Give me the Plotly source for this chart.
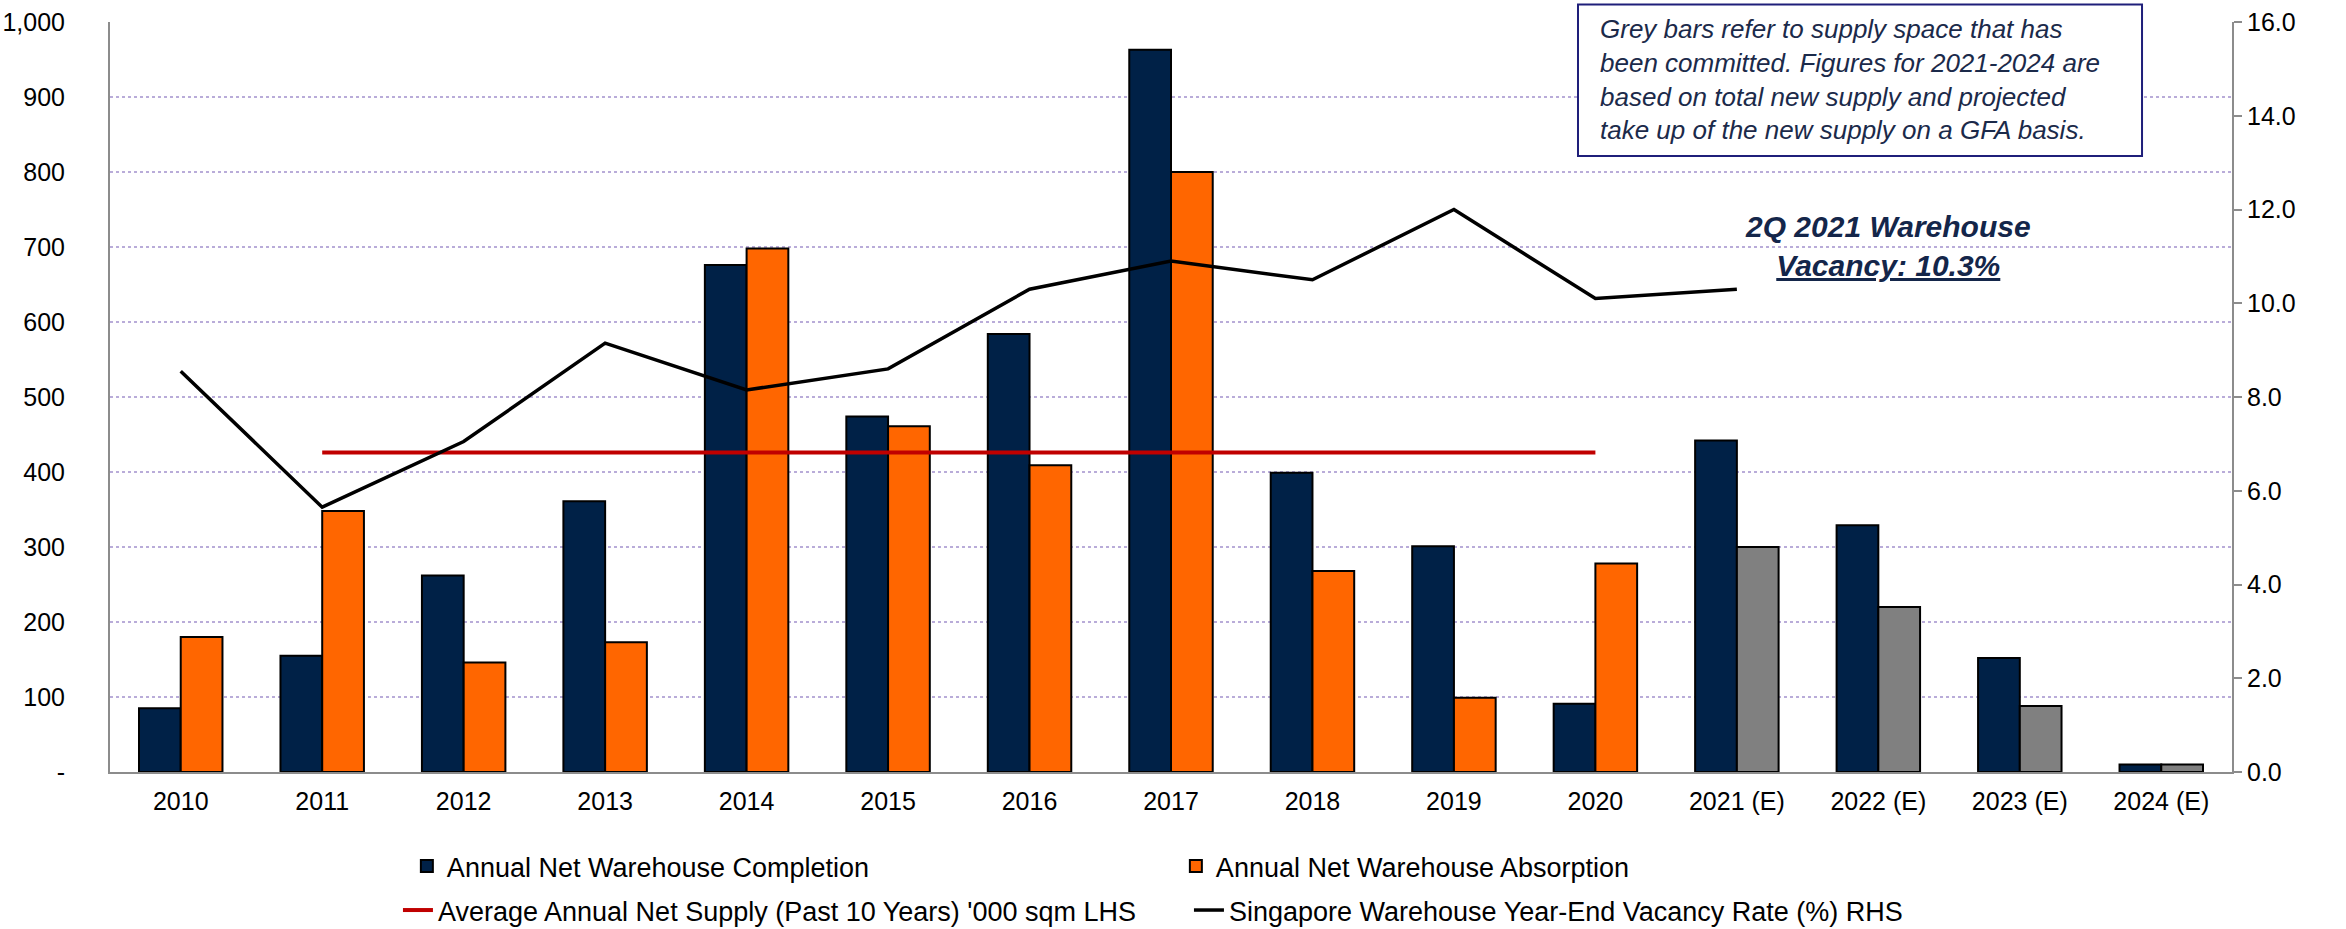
import plotly.graph_objects as go

years = ["2010", "2011", "2012", "2013", "2014", "2015", "2016", "2017", "2018", "2019",
         "2020", "2021 (E)", "2022 (E)", "2023 (E)", "2024 (E)"]
completion = [85, 155, 262, 361, 676, 474, 584, 963, 399, 301, 91, 442, 329, 152, 10]
absorption = [180, 348, 146, 173, 698, 461, 409, 800, 268, 99, 278, 300, 220, 88, 10]
absorption_committed = [False] * 11 + [True] * 4
avg_years = ["2011", "2012", "2013", "2014", "2015", "2016", "2017", "2018", "2019", "2020"]
avg_supply = [426] * 10
vac_years = ["2010", "2011", "2012", "2013", "2014", "2015", "2016", "2017", "2018", "2019",
             "2020", "2021 (E)"]
vacancy = [8.55, 5.65, 7.05, 9.15, 8.15, 8.6, 10.3, 10.9, 10.5, 12.0, 10.1, 10.3]
left_ticks = [0, 100, 200, 300, 400, 500, 600, 700, 800, 900, 1000]
left_ticktext = ["-", "100", "200", "300", "400", "500", "600", "700", "800", "900", "1,000"]

NAVY = "#002147"
ORANGE = "#ff6600"
GREY = "#808080"
FONT = "Liberation Sans, Arial, sans-serif"

abs_colors = [GREY if c else ORANGE for c in absorption_committed]

fig = go.Figure()
fig.add_trace(go.Bar(x=years, y=completion, name="Annual Net Warehouse Completion",
                     legend="legend",
                     marker=dict(color=NAVY, line=dict(color="black", width=2))))
fig.add_trace(go.Bar(x=years, y=absorption, name="Annual Net Warehouse Absorption",
                     legend="legend",
                     marker=dict(color=abs_colors, line=dict(color="black", width=2))))
fig.add_trace(go.Scatter(x=avg_years, y=avg_supply, mode="lines", legend="legend2",
                         name="Average Annual Net Supply (Past 10 Years) '000 sqm LHS",
                         line=dict(color="#c00000", width=4)))
fig.add_trace(go.Scatter(x=vac_years, y=vacancy, mode="lines", yaxis="y2", legend="legend2",
                         name="Singapore Warehouse Year-End Vacancy Rate (%) RHS",
                         line=dict(color="black", width=3.5)))

grid = dict(showgrid=True, gridcolor="#b9acd9", griddash="dot", gridwidth=1.5)
leg_common = dict(orientation="h", xanchor="left", yanchor="top", yref="container",
                  font=dict(size=27, family=FONT), tracegroupgap=0,
                  entrywidthmode="pixels", bgcolor="rgba(0,0,0,0)")

fig.update_layout(
    width=2346, height=929,
    margin=dict(l=110, r=114, t=22, b=157, autoexpand=False),
    paper_bgcolor="white", plot_bgcolor="white",
    font=dict(family=FONT, size=25, color="black"),
    barmode="group", bargap=0.41, bargroupgap=0,
    showlegend=True,
    legend=dict(x=0.1399, y=0.0936, entrywidth=724, **leg_common),
    legend2=dict(x=0.1357, y=0.0463, entrywidth=746, **leg_common),
    xaxis=dict(type="category", showline=True, linecolor="#8c8c8c", linewidth=2,
               ticks="", ticklabelstandoff=6, showgrid=False, automargin=False),
    yaxis=dict(range=[0, 1000], showline=True, automargin=False,
               linecolor="#8c8c8c", linewidth=2, ticks="", ticklabelstandoff=38,
               zeroline=False, tickvals=left_ticks, ticktext=left_ticktext, **grid),
    yaxis2=dict(range=[0, 16], dtick=2, tickformat=".1f", overlaying="y", side="right",
                showline=True, linecolor="#8c8c8c", linewidth=2, ticks="outside",
                ticklen=8, tickcolor="#8c8c8c", tickwidth=2, showgrid=False,
                zeroline=False, ticklabelstandoff=0, automargin=False),
)

fig.add_shape(type="rect", xref="paper", yref="paper",
              x0=0.6918, x1=0.9576, y0=0.8213, y1=1.0233,
              line=dict(color="#1f1f7a", width=2), fillcolor="white", layer="above")
fig.add_annotation(
    xref="paper", yref="paper", x=0.7012, y=0.9227, xanchor="left", yanchor="middle",
    text=("<i>Grey bars refer to supply space that has<br>"
          "been committed. Figures for 2021-2024 are<br>"
          "based on total new supply and projected<br>"
          "take up of the new supply on a GFA basis.</i>"),
    showarrow=False, align="left",
    font=dict(family=FONT, size=26, color="#1b2a4a"),
)
fig.add_annotation(
    xref="paper", yref="paper", x=0.838, y=0.701, xanchor="center", yanchor="middle",
    text="<b><i>2Q 2021 Warehouse</i></b><br><b><i><u>Vacancy: 10.3%</u></i></b>",
    showarrow=False, align="center",
    font=dict(family=FONT, size=30, color="#14264a"),
)

fig.write_html("out.html", config={"displayModeBar": False},
               post_script="document.body.style.margin='0';")
